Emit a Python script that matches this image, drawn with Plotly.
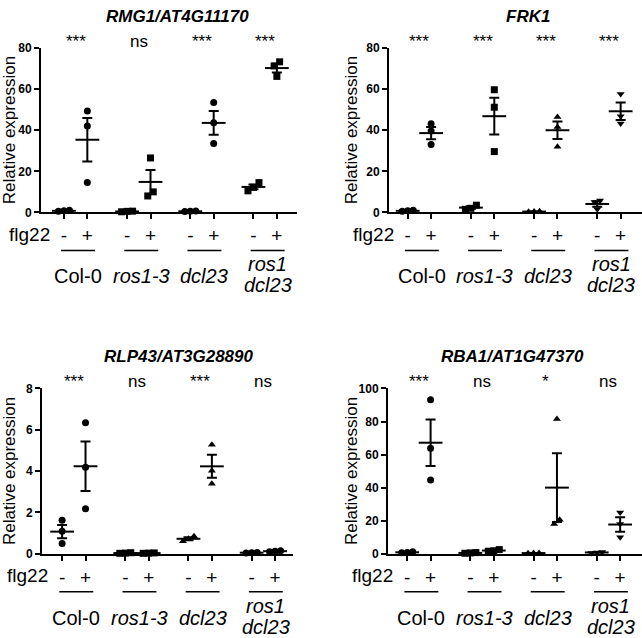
import plotly.graph_objects as go

genotypes = ["Col-0", "<i>ros1-3</i>", "<i>dcl23</i>", ["<i>ros1</i>", "<i>dcl23</i>"]]
flg22 = ["-", "+", "-", "+", "-", "+", "-", "+"]
x_pos = [0, 1, 2.7, 3.7, 5.4, 6.4, 8.1, 9.1]

# three replicates per bar, order: Col-0 -, Col-0 +, ros1-3 -, ros1-3 +, dcl23 -, dcl23 +, ros1 dcl23 -, ros1 dcl23 +
rmg1 = [[1.0, 0.5, 0.8], [49.4, 42.1, 14.6],
        [0.5, 0.3, 0.6], [26.5, 8.0, 10.0],
        [0.7, 0.4, 0.5], [53.5, 43.6, 33.6],
        [14.5, 10.5, 12.2], [73.3, 71.3, 66.2]]
frk1 = [[0.8, 0.5, 1.0], [43.2, 39.6, 33.0],
        [3.5, 2.0, 1.5], [59.7, 51.2, 29.6],
        [0.5, 0.3, 0.4], [46.5, 41.6, 31.9],
        [5.8, 5.0, 1.5], [57.6, 46.8, 43.3]]
rlp43 = [[1.62, 1.09, 0.5], [6.34, 4.18, 2.18],
         [0.03, 0.05, 0.02], [0.02, 0.03, 0.04],
         [0.85, 0.72, 0.6], [5.28, 4.02, 3.39],
         [0.04, 0.05, 0.06], [0.12, 0.15, 0.10]]
rba1 = [[0.8, 1.2, 0.6], [93.1, 63.8, 44.6],
        [0.5, 0.7, 0.3], [2.5, 1.5, 1.8],
        [0.5, 0.3, 0.4], [81.5, 18.0, 20.5],
        [1.0, 0.8, 0.5], [25.0, 18.0, 10.0]]

titles = ["RMG1/AT4G11170", "FRK1", "RLP43/AT3G28890", "RBA1/AT1G47370"]
stars = [["***", "ns", "***", "***"],
         ["***", "***", "***", "***"],
         ["***", "ns", "***", "ns"],
         ["***", "ns", "*", "ns"]]
symbols = [["circle", "square", "circle", "square"],
           ["circle", "square", "triangle-up", "triangle-down"],
           ["circle", "square", "triangle-up", "circle"],
           ["circle", "square", "triangle-up", "triangle-down"]]
y_max = [80, 80, 8, 100]
y_dtick = [20, 20, 2, 20]
data = [rmg1, frk1, rlp43, rba1]

W, H = 642, 638
FONT = "Liberation Sans, Arial, sans-serif"
# panel geometry in pixels
panels = [
    dict(x0=41, x1=297, xs=-0.98, ybot=210, ytop=42, tx=178, ty=10, ytx=9),
    dict(x0=389, x1=642, xs=-0.80, ybot=210, ytop=42, tx=528, ty=10, ytx=351),
    dict(x0=42, x1=293, xs=-0.86, ybot=559, ytop=390, tx=179, ty=357, ytx=9),
    dict(x0=388, x1=642, xs=-0.82, ybot=559, ytop=390, tx=512, ty=357, ytx=351),
]
PPX = 23.4
MS = 7


def px_x(v):
    return v / W


def px_y(v):
    return 1 - v / H


def swarm(vals, ppy, spacing=5.5):
    order = sorted(range(len(vals)), key=lambda i: vals[i])
    clusters, cur = [], [order[0]]
    for i in order[1:]:
        if (vals[i] - vals[cur[-1]]) * ppy < MS:
            cur.append(i)
        else:
            clusters.append(cur)
            cur = [i]
    clusters.append(cur)
    off = [0.0] * len(vals)
    for c in clusters:
        for k, i in enumerate(c):
            off[i] = (k - (len(c) - 1) / 2) * spacing / PPX
    return off


fig = go.Figure()
annotations = []
shapes = []

for p, g in enumerate(panels):
    xa = "x" if p == 0 else "x%d" % (p + 1)
    ya = "y" if p == 0 else "y%d" % (p + 1)
    ppy = (g["ybot"] - g["ytop"]) / y_max[p]

    px, py, psym, means, sems = [], [], [], [], []
    for j, reps in enumerate(data[p]):
        off = swarm(reps, ppy)
        for v, o in zip(reps, off):
            px.append(x_pos[j] + o)
            py.append(v)
            psym.append(symbols[p][j // 2])
        n = len(reps)
        m = sum(reps) / n
        sd = (sum((v - m) ** 2 for v in reps) / (n - 1)) ** 0.5
        means.append(m)
        sems.append(sd / n ** 0.5)

    fig.add_trace(go.Scatter(
        x=x_pos, y=means, xaxis=xa, yaxis=ya, mode="markers", cliponaxis=False,
        marker=dict(symbol="line-ew", size=17, line=dict(width=2, color="black")),
        error_y=dict(type="data", array=sems, thickness=2, width=5, color="black"),
        hoverinfo="skip"))
    fig.add_trace(go.Scatter(
        x=px, y=py, xaxis=xa, yaxis=ya, mode="markers", cliponaxis=False,
        marker=dict(symbol=psym, size=MS, color="black", line=dict(width=0))))

    xe = g["xs"] + (g["x1"] - g["x0"]) / PPX
    axis_common = dict(showline=True, linewidth=2, linecolor="black", ticks="outside",
                       ticklen=5, tickwidth=2, tickcolor="black", showgrid=False,
                       zeroline=False)
    fig.layout[xa.replace("x", "xaxis")] = dict(
        domain=[px_x(g["x0"]), min(px_x(g["x1"]), 1.0)], range=[g["xs"], xe], anchor=ya,
        tickvals=x_pos, ticktext=flg22, ticklabelstandoff=0,
        tickfont=dict(family=FONT, size=19, color="black"), **axis_common)
    fig.layout[ya.replace("y", "yaxis")] = dict(
        domain=[px_y(g["ybot"]), px_y(g["ytop"])], range=[0, y_max[p]], anchor=xa,
        dtick=y_dtick[p], tickfont=dict(family=FONT, size=12, color="black", weight="bold"),
        **axis_common)

    annotations.append(dict(x=px_x(g["tx"]), y=px_y(g["ty"]), xref="paper", yref="paper",
                            xanchor="center", yanchor="middle",
                            text="<b><i>%s</i></b>" % titles[p], showarrow=False,
                            font=dict(family=FONT, size=17, color="black")))
    annotations.append(dict(x=px_x(g["ytx"]), y=0.5, xref="paper", yref=ya + " domain",
                            xanchor="center", yanchor="middle",
                            text="Relative expression", textangle=-90, showarrow=False,
                            font=dict(family=FONT, size=17, color="black")))
    annotations.append(dict(x=-0.52, y=0, xref=xa, yref=ya + " domain", xanchor="right",
                            yanchor="middle", yshift=-22, text="flg22", showarrow=False,
                            font=dict(family=FONT, size=19, color="black")))
    for k in range(4):
        x_m = x_pos[2 * k]
        annotations.append(dict(x=x_m + 0.5, y=1, xref=xa, yref=ya + " domain",
                                xanchor="center", yanchor="middle", yshift=7,
                                text=stars[p][k], showarrow=False,
                                font=dict(family=FONT, size=17, color="black")))
        shapes.append(dict(type="line", xref=xa, yref=ya + " domain", ysizemode="pixel",
                           yanchor=0, x0=x_m - 0.12, x1=x_m + 1.33, y0=-38, y1=-38,
                           line=dict(width=1.5, color="black")))
        lab = genotypes[k]
        if isinstance(lab, list):
            for t, sh in zip(lab, [-52, -73]):
                annotations.append(dict(x=x_m + 0.6, y=0, xref=xa, yref=ya + " domain",
                                        xanchor="center", yanchor="middle", yshift=sh,
                                        text=t, showarrow=False,
                                        font=dict(family=FONT, size=20, color="black")))
        else:
            annotations.append(dict(x=x_m + 0.6, y=0, xref=xa, yref=ya + " domain",
                                    xanchor="center", yanchor="middle", yshift=-64,
                                    text=lab, showarrow=False,
                                    font=dict(family=FONT, size=20, color="black")))

fig.update_layout(width=W, height=H, margin=dict(l=0, r=0, t=0, b=0),
                  paper_bgcolor="white", plot_bgcolor="white", showlegend=False,
                  annotations=annotations, shapes=shapes)

# drop the browser's default 8px body margin so the figure fills the window
fig.write_html("out.html", config={"displayModeBar": False},
               post_script="document.body.style.margin='0px';")
